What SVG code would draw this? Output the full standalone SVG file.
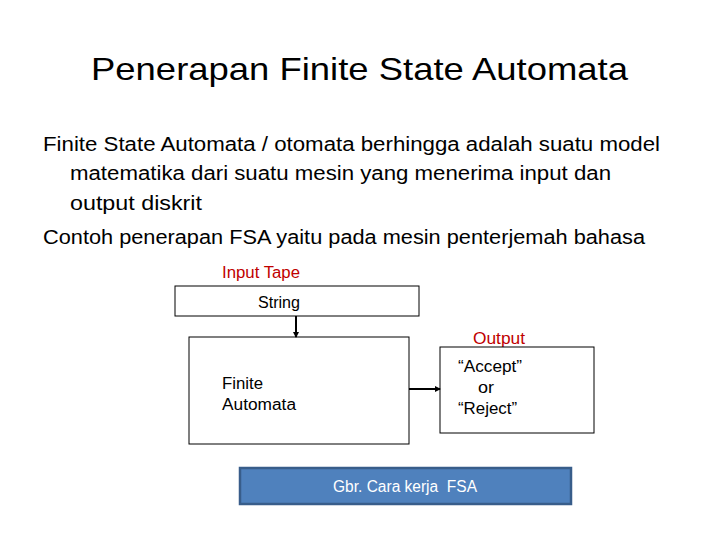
<svg xmlns="http://www.w3.org/2000/svg" width="720" height="540" viewBox="0 0 720 540">
<style>
text{font-family:"Liberation Sans",Arial,sans-serif;fill:#000}
.title{font-size:32px}
.body{font-size:20px}
.sm{font-size:16px}
.red{fill:#c00000}
.box{fill:#fff;stroke:#000;stroke-width:1}
.conn{stroke:#000;stroke-width:2;fill:none}
</style>
<defs>
<marker id="ah" markerWidth="6" markerHeight="6" refX="5" refY="3" orient="auto" markerUnits="userSpaceOnUse">
<path d="M0,0 L6,3 L0,6 z" fill="#000"/>
</marker>
</defs>
<rect width="720" height="540" fill="#fff"/>
<text class="title" x="91" y="80" textLength="537" lengthAdjust="spacingAndGlyphs">Penerapan Finite State Automata</text>
<text class="body" x="43" y="151" textLength="617" lengthAdjust="spacingAndGlyphs">Finite State Automata / otomata berhingga adalah suatu model</text>
<text class="body" x="70" y="180" textLength="541" lengthAdjust="spacingAndGlyphs">matematika dari suatu mesin yang menerima input dan</text>
<text class="body" x="70" y="210" textLength="132" lengthAdjust="spacingAndGlyphs">output diskrit</text>
<text class="body" x="43" y="244" textLength="602" lengthAdjust="spacingAndGlyphs">Contoh penerapan FSA yaitu pada mesin penterjemah bahasa</text>

<g id="input-tape">
<text class="sm red" x="222" y="278" textLength="78" lengthAdjust="spacingAndGlyphs">Input Tape</text>
<rect class="box" x="175" y="286" width="244" height="30"/>
<text class="sm" x="258" y="308" textLength="42" lengthAdjust="spacingAndGlyphs">String</text>
</g>
<g id="finite-automata">
<rect class="box" x="189" y="337" width="220" height="107"/>
<text class="sm" x="222" y="389" textLength="41" lengthAdjust="spacingAndGlyphs">Finite</text>
<text class="sm" x="222" y="410" textLength="74" lengthAdjust="spacingAndGlyphs">Automata</text>
</g>
<g id="output">
<text class="sm red" x="473" y="344" textLength="52" lengthAdjust="spacingAndGlyphs">Output</text>
<rect class="box" x="440" y="347" width="154" height="86"/>
<text class="sm" x="458" y="372" textLength="64" lengthAdjust="spacingAndGlyphs">“Accept”</text>
<text class="sm" x="478" y="393" textLength="16" lengthAdjust="spacingAndGlyphs">or</text>
<text class="sm" x="458" y="414" textLength="59" lengthAdjust="spacingAndGlyphs">“Reject”</text>
</g>
<g id="connectors">
<line class="conn" x1="296" y1="316" x2="296" y2="337" marker-end="url(#ah)"/>
<line class="conn" x1="409" y1="389" x2="440" y2="389" marker-end="url(#ah)"/>
</g>
<g id="caption">
<rect x="240" y="468" width="331" height="36" fill="#4f81bd" stroke="#385d8a" stroke-width="2.5"/>
<text class="sm" x="333" y="492" textLength="144" lengthAdjust="spacingAndGlyphs" style="fill:#fff">Gbr. Cara kerja&#160; FSA</text>
</g>
</svg>
